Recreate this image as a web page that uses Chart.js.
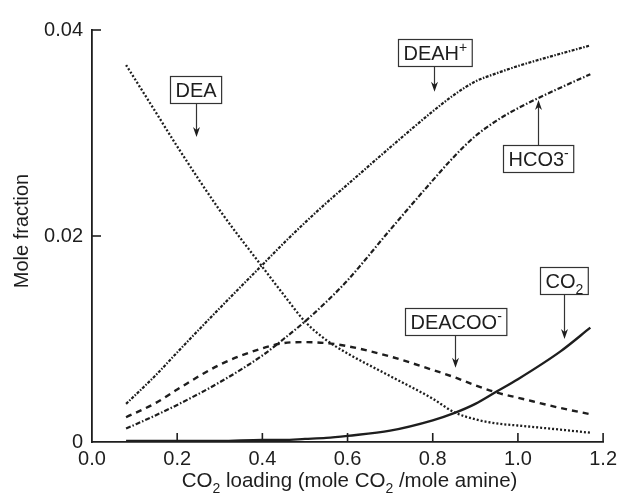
<!DOCTYPE html>
<html>
<head>
<meta charset="utf-8">
<script src="https://cdn.jsdelivr.net/npm/chart.js@4/dist/chart.umd.min.js"></script>
<style>
  html, body { margin: 0; padding: 0; background: #fff; }
  #wrap { width: 622px; height: 500px; }
</style>
</head>
<body>
<div id="wrap"><canvas id="chart" width="622" height="500"></canvas></div>
<script>
// CO2 loading (mole CO2 / mole amine)
const loading = [0.08, 0.15, 0.2, 0.3, 0.4, 0.45, 0.5, 0.55, 0.6, 0.7, 0.8, 0.85, 0.9, 0.95, 1.0, 1.1, 1.17];

// Liquid-phase mole fractions
const dea     = [0.0366, 0.0320, 0.0287, 0.0225, 0.0170, 0.0143, 0.0117, 0.0099, 0.0086, 0.0064, 0.0042, 0.0029, 0.0022, 0.0018, 0.0016, 0.0012, 0.0009];
const deah    = [0.0037, 0.0065, 0.0087, 0.0130, 0.0172, 0.0193, 0.0213, 0.0232, 0.0250, 0.0286, 0.0321, 0.0337, 0.0350, 0.0358, 0.0365, 0.0377, 0.0385];
const hco3    = [0.0013, 0.0026, 0.0036, 0.0058, 0.0084, 0.0100, 0.0117, 0.0136, 0.0157, 0.0206, 0.0254, 0.0277, 0.0297, 0.0312, 0.0324, 0.0344, 0.0357];
const deacoo  = [0.0024, 0.0038, 0.0051, 0.0075, 0.0091, 0.0096, 0.0097, 0.0096, 0.0093, 0.0083, 0.0070, 0.0063, 0.0055, 0.0048, 0.0043, 0.0033, 0.0027];
const co2     = [0.0001, 0.0001, 0.0001, 0.0001, 0.0002, 0.0002, 0.0003, 0.0004, 0.0006, 0.0011, 0.0021, 0.0028, 0.0037, 0.0049, 0.0061, 0.0088, 0.0111];

// Axis ticks
const xTicks = [0.0, 0.2, 0.4, 0.6, 0.8, 1.0, 1.2];
const yTicks = [0, 0.02, 0.04];

const INK = '#1e1e1e';
const FONT = '"Liberation Sans", Arial, Helvetica, sans-serif';

function pts(ys) { return loading.map((x, i) => ({ x: x, y: ys[i] })); }

function series(label, ys, dash, width) {
  return {
    label: label,
    data: pts(ys),
    borderColor: INK,
    borderWidth: width,
    borderDash: dash,
    pointRadius: 0,
    fill: false,
    cubicInterpolationMode: 'monotone'
  };
}

// Callout boxes: text runs, box centre and arrow tip in data units
const callouts = [
  { runs: [{ t: 'DEA' }], at: [0.244, 0.0342], tip: [0.244, 0.0296] },
  { runs: [{ t: 'DEAH' }, { t: '+', sup: true }], at: [0.804, 0.0378], tip: [0.804, 0.0340] },
  { runs: [{ t: 'HCO3' }, { t: '-', sup: true }], at: [1.048, 0.0275], tip: [1.048, 0.0332] },
  { runs: [{ t: 'DEACOO' }, { t: '-', sup: true }], at: [0.853, 0.0117], tip: [0.853, 0.0072] },
  { runs: [{ t: 'CO' }, { t: '2', sub: true }], at: [1.109, 0.0157], tip: [1.109, 0.0100] }
];

const xTitleRuns = [
  { t: 'CO' }, { t: '2', sub: true }, { t: ' loading (mole CO' }, { t: '2', sub: true }, { t: ' /mole amine)' }
];
const yTitleRuns = [{ t: 'Mole fraction' }];

// Draw a run list with sub/superscripts; returns total width
function runsWidth(ctx, runs, size) {
  let w = 0;
  runs.forEach(r => {
    const s = (r.sub || r.sup) ? Math.round(size * 0.68) : size;
    ctx.font = s + 'px ' + FONT;
    w += ctx.measureText(r.t).width;
  });
  return w;
}
function drawRuns(ctx, runs, x, y, size) {
  let cx = x;
  ctx.textBaseline = 'alphabetic';
  ctx.textAlign = 'left';
  runs.forEach(r => {
    const s = (r.sub || r.sup) ? Math.round(size * 0.68) : size;
    ctx.font = s + 'px ' + FONT;
    let dy = 0;
    if (r.sub) dy = size * 0.28;
    if (r.sup) dy = -size * 0.38;
    ctx.fillText(r.t, cx, y + dy);
    cx += ctx.measureText(r.t).width;
  });
}

const decorations = {
  id: 'decorations',
  afterDraw(chart) {
    const ctx = chart.ctx;
    const xs = chart.scales.x, ys = chart.scales.y;
    const area = chart.chartArea;
    ctx.save();
    ctx.strokeStyle = INK;
    ctx.fillStyle = INK;

    // inward tick marks
    ctx.lineWidth = 1.6;
    xTicks.forEach(v => {
      if (v === 0) return;
      const px = xs.getPixelForValue(v);
      ctx.beginPath();
      ctx.moveTo(px, area.bottom);
      ctx.lineTo(px, area.bottom - 9);
      ctx.stroke();
    });
    yTicks.forEach(v => {
      if (v === 0) return;
      const py = ys.getPixelForValue(v);
      ctx.beginPath();
      ctx.moveTo(area.left, py);
      ctx.lineTo(area.left + 9, py);
      ctx.stroke();
    });

    // callout boxes with arrows
    const size = 20;
    callouts.forEach(c => {
      const cx = xs.getPixelForValue(c.at[0]);
      const cy = ys.getPixelForValue(c.at[1]);
      const tx = xs.getPixelForValue(c.tip[0]);
      const ty = ys.getPixelForValue(c.tip[1]);
      const w = runsWidth(ctx, c.runs, size) + 10;
      const h = 27;
      const bx = Math.round(cx - w / 2) + 0.5, by = Math.round(cy - h / 2) + 0.5;
      ctx.fillStyle = '#fff';
      ctx.fillRect(bx, by, w, h);
      ctx.lineWidth = 1.2;
      ctx.strokeStyle = '#333';
      ctx.strokeRect(bx, by, w, h);
      ctx.fillStyle = INK;
      drawRuns(ctx, c.runs, bx + 5, by + h / 2 + 7, size);

      // arrow shaft from box edge to tip
      const up = ty < cy;
      const sy = up ? by : by + h;
      const ax = Math.round(tx) + 0.5;
      ctx.lineWidth = 1.2;
      ctx.beginPath();
      ctx.moveTo(ax, sy);
      ctx.lineTo(ax, ty + (up ? 4 : -4));
      ctx.stroke();
      ctx.beginPath();
      ctx.moveTo(ax, ty);
      ctx.lineTo(ax - 3.5, ty + (up ? 10 : -10));
      ctx.lineTo(ax, ty + (up ? 7 : -7));
      ctx.lineTo(ax + 3.5, ty + (up ? 10 : -10));
      ctx.closePath();
      ctx.fill();
    });

    // axis titles
    ctx.fillStyle = INK;
    const xw = runsWidth(ctx, xTitleRuns, 20.5);
    drawRuns(ctx, xTitleRuns, (area.left + area.right) / 2 + 2 - xw / 2, 487, 20.5);

    ctx.save();
    ctx.translate(28, (area.top + area.bottom) / 2 - 5);
    ctx.rotate(-Math.PI / 2);
    const yw = runsWidth(ctx, yTitleRuns, 20);
    drawRuns(ctx, yTitleRuns, -yw / 2, 0, 20);
    ctx.restore();

    ctx.restore();
  }
};

new Chart(document.getElementById('chart'), {
  type: 'line',
  data: {
    datasets: [
      series('DEA', dea, [2, 2], 2.3),
      series('DEAH+', deah, [3, 1.5, 1.5, 1.5], 2.2),
      series('HCO3-', hco3, [5, 2, 1.5, 2], 2.2),
      series('DEACOO-', deacoo, [6, 5], 2.4),
      series('CO2', co2, [], 2.4)
    ]
  },
  options: {
    responsive: false,
    devicePixelRatio: 1,
    animation: false,
    layout: { padding: { top: 30, right: 18, left: 0, bottom: 0 } },
    plugins: { legend: { display: false }, tooltip: { enabled: false } },
    scales: {
      x: {
        type: 'linear',
        min: 0, max: 1.2,
        afterBuildTicks: s => { s.ticks = xTicks.map(v => ({ value: v })); },
        afterFit: s => { s.height = 58; },
        grid: { display: false, drawTicks: false },
        border: { display: true, color: INK, width: 1.8 },
        ticks: {
          color: INK,
          padding: 5,
          font: { family: FONT, size: 20 },
          callback: v => v.toFixed(1)
        }
      },
      y: {
        type: 'linear',
        min: 0, max: 0.04,
        afterBuildTicks: s => { s.ticks = yTicks.map(v => ({ value: v })); },
        afterFit: s => { s.width = 92; },
        grid: { display: false, drawTicks: false },
        border: { display: true, color: INK, width: 1.8 },
        ticks: {
          color: INK,
          padding: 9,
          font: { family: FONT, size: 20 },
          callback: v => v === 0 ? '0' : v.toFixed(2)
        }
      }
    }
  },
  plugins: [decorations]
});
</script>
</body>
</html>
